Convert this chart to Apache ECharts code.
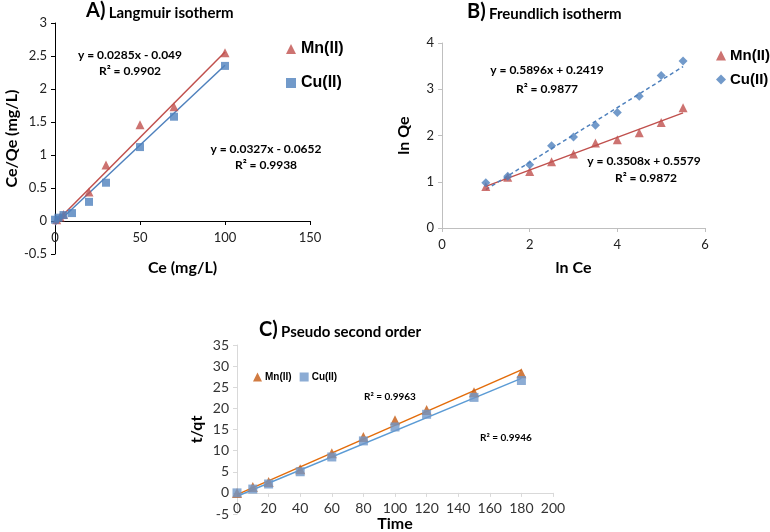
<!DOCTYPE html>
<html><head><meta charset="utf-8">
<script src="https://cdn.jsdelivr.net/npm/echarts@6/dist/echarts.min.js"></script>
<style>html,body{margin:0;padding:0;background:#fff}#c{width:770px;height:532px}</style>
</head><body><div id="c"></div>
<script>
// Panel A: Langmuir isotherm
const aMnX = [1, 3, 5, 20, 30, 50, 70, 100];
const aMnY = [0.02, 0.06, 0.1, 0.44, 0.85, 1.46, 1.73, 2.55];
const aCuX = [0, 2, 5, 10, 20, 30, 50, 70, 100];
const aCuY = [0.02, 0.05, 0.09, 0.12, 0.29, 0.58, 1.12, 1.58, 2.35];
const aMnFitX = [0, 100], aMnFitY = [-0.03, 2.56];
const aCuFitX = [0, 100], aCuFitY = [-0.06, 2.36];
// Panel B: Freundlich isotherm
const bX = [1, 1.5, 2, 2.5, 3, 3.5, 4, 4.5, 5, 5.5];
const bMnY = [0.9, 1.1, 1.22, 1.43, 1.6, 1.84, 1.91, 2.06, 2.28, 2.6];
const bCuY = [0.98, 1.12, 1.37, 1.78, 1.97, 2.22, 2.5, 2.85, 3.3, 3.61];
const bMnFitX = [1, 5.5], bMnFitY = [0.9, 2.49];
const bCuFitX = [1, 5.5], bCuFitY = [0.83, 3.49];
// Panel C: Pseudo second order
const cX = [0, 10, 20, 40, 60, 80, 100, 120, 150, 180];
const cMnY = [0, 1.4, 2.6, 5.6, 9.4, 13.2, 17.2, 19.6, 23.8, 28.3];
const cCuY = [0, 0.9, 2.1, 5.0, 8.5, 12.3, 15.6, 18.6, 22.6, 26.6];
const cMnFitX = [0, 180], cMnFitY = [-0.4, 29.1];
const cCuFitX = [0, 180], cCuFitY = [-0.8, 27.1];
// Annotations
const eqA = ['y = 0.0285x - 0.049', 'R² = 0.9902', 'y = 0.0327x - 0.0652', 'R² = 0.9938'];
const eqB = ['y = 0.5896x + 0.2419', 'R² = 0.9877', 'y = 0.3508x + 0.5579', 'R² = 0.9872'];
const eqC = ['R² = 0.9963', 'R² = 0.9946'];

const zip = (xs, ys) => xs.map((x, i) => [x, ys[i]]);
const RED = '#c0504d', BLUE = '#4f81bd', ORANGE = '#e36c0a', LBLUE = '#5b9bd5', CUSQ = '#6f97c9';
const CAL = 'Lato, "Open Sans", sans-serif';
const ARI = '"Liberation Sans", Arial, sans-serif';
const NAMESTYLE = {color: '#000', fontFamily: CAL, fontWeight: 'bold', fontSize: 16};

function axisCommon(lineColor, labelColor, fs) {
  return {
    axisLine: {lineStyle: {color: lineColor, width: 1}},
    axisTick: {lineStyle: {color: lineColor}, length: 4},
    splitLine: {show: false},
    axisLabel: {color: labelColor, fontFamily: CAL, fontSize: fs},
    nameTextStyle: NAMESTYLE
  };
}
// label-only axis drawn at the zero line
function labelAxis(gi, min, max, interval, off, name, gap, color, fs, margin) {
  return {gridIndex: gi, type: 'value', min, max, interval, position: 'bottom', offset: off,
    axisLine: {show: false}, axisTick: {show: false}, splitLine: {show: false},
    axisLabel: {color, fontFamily: CAL, fontSize: fs, margin},
    name, nameLocation: 'middle', nameGap: gap, nameTextStyle: NAMESTYLE};
}

const chart = echarts.init(document.getElementById('c'), null, {renderer: 'canvas'});
const scat = (name, xi, data, sym, size, color) => ({
  name, type: 'scatter', xAxisIndex: xi, yAxisIndex: xi, data, symbol: sym, symbolSize: size,
  itemStyle: {color}, z: 3
});
const fit = (name, xi, data, color, dashed) => ({
  name, type: 'line', xAxisIndex: xi, yAxisIndex: xi, data, showSymbol: false, symbol: 'none',
  lineStyle: {color, width: 1.5, type: dashed ? [4, 3] : 'solid'}, z: 2, silent: true
});

const legendFmt = n => n.indexOf('Mn') >= 0 ? 'Mn(II)' : 'Cu(II)';

const txt = (x, y, t, fs) => ({
  type: 'text', x, y,
  style: {text: t, font: 'bold ' + fs + 'px ' + CAL, fill: '#000', align: 'center', verticalAlign: 'middle'}
});
const titleEl = (x, y, a, b) => ({
  type: 'text', left: x, top: y,
  style: {
    text: '{a|' + a + '} {b|' + b + '}',
    rich: {
      a: {fill: '#000', fontWeight: 'bold', fontSize: 20, fontFamily: CAL, verticalAlign: 'bottom'},
      b: {fill: '#000', fontWeight: 'bold', fontSize: 15, fontFamily: CAL, verticalAlign: 'bottom'}
    }
  }
});

const option = {
  backgroundColor: '#ffffff',
  animation: false,
  grid: [
    {left: 55, top: 23, width: 255, height: 231, outerBoundsMode: 'none'},
    {left: 442, top: 43, width: 263, height: 185, outerBoundsMode: 'none'},
    {left: 237, top: 345, width: 316, height: 169, outerBoundsMode: 'none'}
  ],
  xAxis: [
    Object.assign(axisCommon('#000', '#222', 13), {gridIndex: 0, type: 'value', min: 0, max: 150, interval: 50,
      axisLabel: {show: false}}),
    Object.assign(axisCommon('#bfbfbf', '#222', 13), {gridIndex: 1, type: 'value', min: 0, max: 6, interval: 2,
      name: 'ln Ce', nameLocation: 'middle', nameGap: 32, axisLabel: {color: '#222', fontFamily: CAL, fontSize: 13, margin: 10}}),
    Object.assign(axisCommon('#d9d9d9', '#333', 14), {gridIndex: 2, type: 'value', min: 0, max: 200, interval: 20,
      axisLabel: {show: false}}),
    labelAxis(0, 0, 150, 50, -33, 'Ce (mg/L)', 39, '#222', 13, 10),
    labelAxis(2, 0, 200, 20, -22, 'Time', 22, '#333', 14, 9)
  ],
  yAxis: [
    Object.assign(axisCommon('#000', '#222', 13), {gridIndex: 0, type: 'value', min: -0.5, max: 3, interval: 0.5,
      name: 'Ce/Qe (mg/L)', nameLocation: 'middle', nameGap: 34}),
    Object.assign(axisCommon('#bfbfbf', '#222', 13), {gridIndex: 1, type: 'value', min: 0, max: 4, interval: 1,
      name: 'ln Qe', nameLocation: 'middle', nameGap: 30}),
    Object.assign(axisCommon('#d9d9d9', '#333', 14), {gridIndex: 2, type: 'value', min: -5, max: 35, interval: 5,
      name: 't/qt', nameLocation: 'middle', nameGap: 32})
  ],
  legend: [
    {data: [{name: 'A_Mn', icon: 'triangle'}, {name: 'A_Cu', icon: 'rect'}], orient: 'vertical', left: 281, top: 36,
      itemWidth: 10, itemHeight: 10, itemGap: 18, formatter: legendFmt,
      textStyle: {fontFamily: ARI, fontWeight: 'bold', fontSize: 16, color: '#000'}},
    {data: [{name: 'B_Mn', icon: 'triangle'}, {name: 'B_Cu', icon: 'diamond'}], orient: 'vertical', left: 711, top: 43,
      itemWidth: 10, itemHeight: 10, itemGap: 9, formatter: legendFmt,
      textStyle: {fontFamily: ARI, fontWeight: 'bold', fontSize: 15, color: '#000', padding: [0, 0, 0, -1]}},
    {data: [{name: 'C_Mn', icon: 'triangle'}, {name: 'C_Cu', icon: 'rect'}], orient: 'horizontal', left: 248, top: 367,
      itemWidth: 9, itemHeight: 9, itemGap: 8, formatter: legendFmt,
      textStyle: {fontFamily: ARI, fontWeight: 'bold', fontSize: 10, color: '#000', padding: [0, 0, 0, -2]}}
  ],
  series: [
    fit('A_Mn_fit', 0, zip(aMnFitX, aMnFitY), RED),
    fit('A_Cu_fit', 0, zip(aCuFitX, aCuFitY), BLUE),
    scat('A_Mn', 0, zip(aMnX, aMnY), 'triangle', 9, RED),
    scat('A_Cu', 0, zip(aCuX, aCuY), 'rect', 8, BLUE),
    fit('B_Mn_fit', 1, zip(bMnFitX, bMnFitY), RED),
    fit('B_Cu_fit', 1, zip(bCuFitX, bCuFitY), BLUE, true),
    scat('B_Mn', 1, zip(bX, bMnY), 'triangle', 9, RED),
    scat('B_Cu', 1, zip(bX, bCuY), 'diamond', 9, BLUE),
    fit('C_Mn_fit', 2, zip(cMnFitX, cMnFitY), ORANGE),
    fit('C_Cu_fit', 2, zip(cCuFitX, cCuFitY), LBLUE),
    scat('C_Mn', 2, zip(cX, cMnY), 'triangle', 10, '#c55a11'),
    scat('C_Cu', 2, zip(cX, cCuY), 'rect', 9, CUSQ)
  ],
  graphic: [
    titleEl(86, 1, 'A)', 'Langmuir isotherm'),
    titleEl(467, 2, 'B)', 'Freundlich isotherm'),
    titleEl(259, 320, 'C)', 'Pseudo second order'),
    txt(130, 55, eqA[0], 12), txt(130, 71, eqA[1], 12),
    txt(266, 149, eqA[2], 12), txt(266, 165, eqA[3], 12),
    txt(547, 70, eqB[0], 12), txt(547, 89, eqB[1], 12),
    txt(644, 161, eqB[2], 12), txt(646, 178, eqB[3], 12),
    txt(390, 397, eqC[0], 10), txt(506, 438, eqC[1], 10)
  ]
};
chart.setOption(option);
</script>
</body></html>
